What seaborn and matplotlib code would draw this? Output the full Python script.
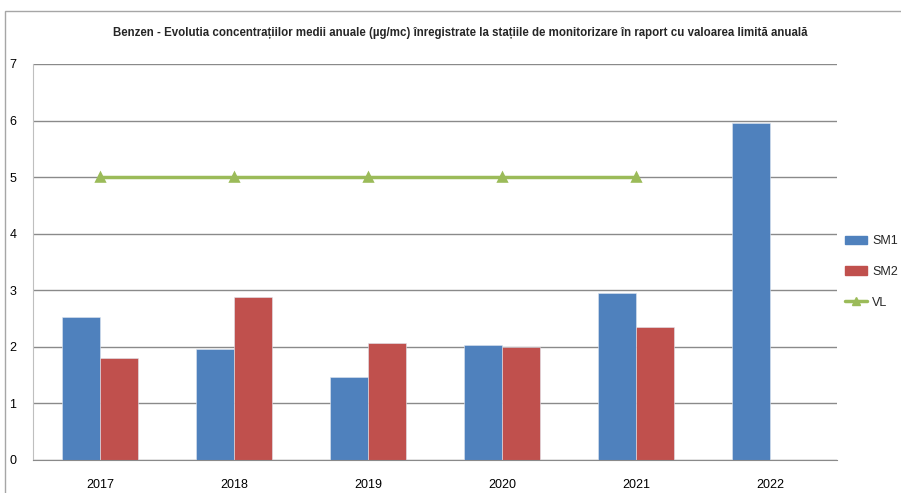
import pandas as pd
import numpy as np
import matplotlib
matplotlib.use('Agg')
import matplotlib.pyplot as plt
import seaborn as sns
from matplotlib.patches import Rectangle

years = ['2017', '2018', '2019', '2020', '2021', '2022']
sm1 = [2.53, 1.96, 1.47, 2.03, 2.95, 5.95]
sm2 = [1.80, 2.88, 2.07, 2.00, 2.35, np.nan]
vl = [5, 5, 5, 5, 5, np.nan]

title = 'Benzen - Evolutia concentrațiilor medii anuale (µg/mc) înregistrate la stațiile de monitorizare în raport cu valoarea limită anuală'

sns.set_style('white')
plt.rcParams['font.family'] = ['Liberation Sans', 'DejaVu Sans']

df = pd.DataFrame({'an': years, 'SM1': sm1, 'SM2': sm2})
df = df.melt(id_vars='an', var_name='statie', value_name='val').dropna()
df_vl = pd.DataFrame({'an': years, 'VL': vl}).dropna()

fig = plt.figure(figsize=(9.01, 4.93), dpi=100)
ax = fig.add_axes([33/901, 1-460/493, (837-33)/901, (460-64)/493])

sns.barplot(data=df, x='an', y='val', hue='statie', order=years, hue_order=['SM1', 'SM2'],
            palette={'SM1': '#4F81BD', 'SM2': '#C0504D'}, width=0.567, saturation=1,
            edgecolor='#dfe6f0', linewidth=0.4, ax=ax, legend=False)
sns.pointplot(data=df_vl, x='an', y='VL', order=years, color='#9BBB59', markers='^',
              markersize=6, linewidth=2.5, ax=ax)

ax.set_ylim(0, 7)
ax.set_xlim(-0.5, 5.5)
ax.set_yticks(range(8))
ax.yaxis.grid(True, color='#8a8a8a', linewidth=1)
ax.set_axisbelow(True)
ax.set_xlabel(''); ax.set_ylabel('')
ax.tick_params(axis='both', length=0, labelsize=9, colors='black')
ax.tick_params(axis='y', pad=12)
ax.tick_params(axis='x', pad=14)
for s in ['top', 'right']:
    ax.spines[s].set_visible(False)
ax.spines['left'].set_color('#bfbfbf')
ax.spines['bottom'].set_color('#8a8a8a')

fig.text(460/901, 1-33/493, title, ha='center', va='center', fontsize=8.3, fontweight='bold')

handles = [plt.Rectangle((0, 0), 1, 1, color='#4F81BD'),
           plt.Rectangle((0, 0), 1, 1, color='#C0504D'),
           plt.Line2D([], [], color='#9BBB59', marker='^', linewidth=2.5, markersize=6)]
fig.legend(handles, ['SM1', 'SM2', 'VL'], loc='center left', bbox_to_anchor=(836/901, 1-272/493),
           frameon=False, fontsize=9, handlelength=1.8, labelspacing=1.5, handletextpad=0.4,
           borderpad=0.2)

fig.patches.append(Rectangle((5/901, -0.1), 1.2, 1.1-11/493, transform=fig.transFigure,
                             fill=False, edgecolor='#a6a6a6', linewidth=1))

fig.savefig('out.png', dpi=100)
